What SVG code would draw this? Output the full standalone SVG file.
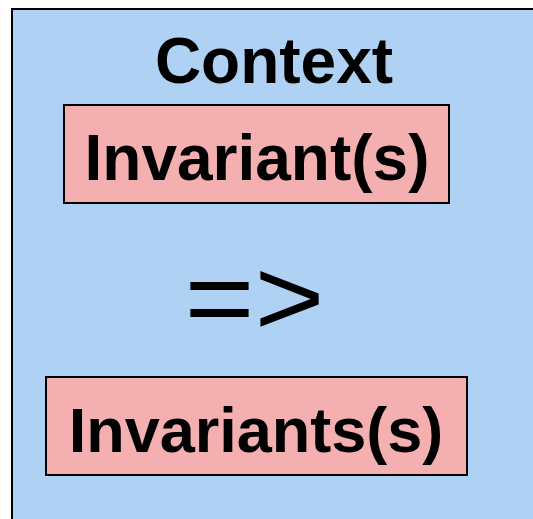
<svg xmlns="http://www.w3.org/2000/svg" width="533" height="519" viewBox="0 0 533 519">
  <style>
    .frame { fill: #afd1f3; stroke: #000; stroke-width: 2; }
    .box { fill: #f4b0b0; stroke: #000; stroke-width: 2; }
    .lbl { font-family: "Liberation Sans", Arial, sans-serif; font-weight: bold; fill: #000; text-anchor: middle; }
    .op { font-family: "Liberation Sans", Arial, sans-serif; fill: #000; text-anchor: middle; }
  </style>
  <rect width="533" height="519" fill="#ffffff"/>
  <g id="context">
    <rect class="frame" x="12" y="9" width="540" height="530"/>
    <text class="lbl" x="274" y="83" font-size="64">Context</text>
  </g>
  <g id="premise">
    <rect class="box" x="64" y="105" width="385" height="98"/>
    <text class="lbl" x="257" y="180" font-size="64">Invariant(s)</text>
  </g>
  <g id="connectors">
    <!-- implication sign, slightly widened -->
    <text class="op" transform="translate(254.5,335) scale(1.09,1)" x="0" y="0" font-size="110">=&gt;</text>
  </g>
  <g id="conclusion">
    <rect class="box" x="46" y="377" width="421" height="98"/>
    <text class="lbl" x="256" y="452" font-size="63">Invariants(s)</text>
  </g>
</svg>
